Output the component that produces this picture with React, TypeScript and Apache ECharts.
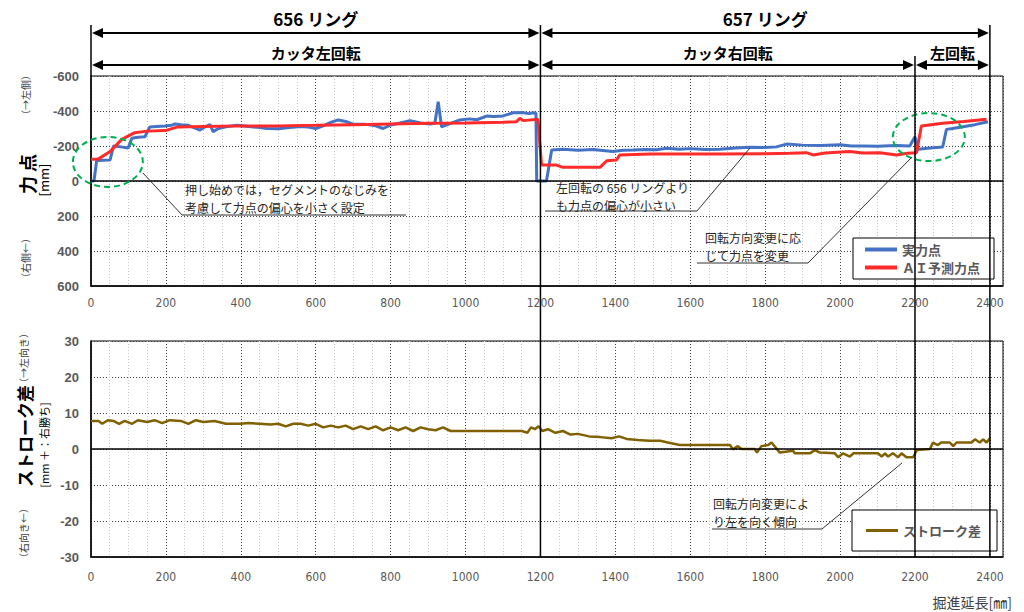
import React, { useEffect, useRef } from "react";
import * as echarts from "echarts";

// 実力点 [掘進延長 mm, 力点 mm]（負 = 左側）
const actualForce: [number, number][] = [
  [0, 0], [8, 0], [15, -116], [30, -118], [51, -120], [60, -200], [80, -195], [99, -188],
  [109, -244], [125, -250], [144, -253], [157, -309], [175, -312], [198, -314], [215, -318],
  [224, -326], [240, -322], [260, -318], [291, -291], [305, -310], [318, -322], [326, -282],
  [340, -300], [360, -310], [390, -318], [420, -312], [450, -305], [470, -300], [500, -298],
  [530, -305], [560, -312], [580, -308], [600, -300], [620, -315], [640, -335], [660, -349],
  [680, -340], [700, -325], [730, -325], [760, -315], [780, -300], [800, -320], [825, -331],
  [852, -345], [880, -332], [905, -325], [918, -330], [927, -453], [936, -310], [955, -325],
  [985, -349], [1010, -355], [1030, -350], [1056, -371], [1075, -368], [1100, -372],
  [1127, -390], [1150, -392], [1170, -385], [1180, -390], [1188, -388], [1190, 0], [1216, 0],
  [1230, -177], [1260, -181], [1300, -176], [1340, -180], [1394, -168], [1420, -176],
  [1447, -177], [1480, -180], [1510, -178], [1537, -187], [1570, -182], [1600, -185],
  [1640, -180], [1679, -181], [1720, -188], [1760, -193], [1800, -192], [1830, -195],
  [1857, -211], [1900, -205], [1950, -203], [2000, -207], [2030, -200], [2061, -200],
  [2100, -198], [2150, -203], [2186, -200], [2200, -253], [2208, -181], [2240, -188],
  [2274, -194], [2284, -295], [2300, -300], [2328, -310], [2360, -322], [2395, -339],
];

// ＡＩ予測力点
const aiForce: [number, number][] = [
  [0, -124], [19, -125], [51, -168], [82, -238], [117, -276], [150, -285], [198, -288],
  [232, -309], [300, -312], [400, -315], [500, -315], [600, -318], [700, -322], [800, -326],
  [900, -330], [1000, -332], [1100, -336], [1136, -339], [1145, -358], [1154, -345],
  [1193, -353], [1203, -91], [1243, -91], [1260, -78], [1359, -78], [1377, -116],
  [1403, -120], [1412, -149], [1492, -154], [1679, -154], [1800, -156], [1866, -158],
  [1910, -162], [1928, -149], [1960, -160], [2026, -168], [2060, -160], [2106, -162],
  [2151, -149], [2180, -158], [2204, -162], [2217, -314], [2274, -330], [2330, -340],
  [2391, -353],
];

// ストローク差 [掘進延長 mm, mm]
const strokeDiff: [number, number][] = [
  [0, 7.8], [20, 7.8], [30, 7], [45, 8], [60, 7.8], [75, 7], [90, 7.8], [110, 7], [125, 8],
  [150, 7.5], [170, 8], [190, 7.2], [210, 8], [240, 7.8], [260, 7], [280, 8], [300, 7.5],
  [330, 7.8], [360, 7], [380, 7], [400, 7], [420, 7.2], [450, 7], [480, 6.8], [500, 7],
  [520, 6.3], [540, 7], [560, 7], [580, 6.5], [600, 7], [620, 6], [640, 6.5], [660, 6],
  [680, 6.5], [700, 5.5], [720, 6.3], [740, 5.5], [760, 6.3], [780, 5.2], [800, 6],
  [820, 5.2], [840, 6], [860, 5], [880, 6], [900, 5.5], [920, 5.2], [940, 6], [960, 5],
  [980, 5], [1000, 5], [1050, 5], [1100, 5], [1150, 5], [1165, 4.5], [1175, 6], [1185, 5.5],
  [1195, 6.3], [1205, 5], [1220, 5.5], [1240, 4.5], [1260, 5], [1280, 4], [1300, 4.2],
  [1330, 3.5], [1360, 3.3], [1390, 3], [1410, 3.5], [1430, 2.8], [1460, 2.5], [1490, 2.3],
  [1520, 2.3], [1540, 1.8], [1572, 1.1], [1706, 1.1], [1714, -0.1], [1727, 0.8], [1737, 0],
  [1772, 0], [1778, -1], [1790, 0.8], [1808, 1.1], [1817, 1.8], [1839, -1], [1875, -0.5],
  [1879, -1.2], [1919, -1.2], [1933, -0.3], [1946, -1], [1986, -1.2], [1995, -2.3],
  [2008, -1.2], [2026, -2.1], [2036, -1.2], [2101, -1.2], [2111, -2.1], [2120, -1.2],
  [2128, -2.1], [2141, -1.2], [2155, -2.3], [2164, -1.2], [2177, -2.3], [2195, -2.3],
  [2205, -0.3], [2240, 0], [2248, 1.8], [2261, 1.1], [2270, 1.8], [2293, 1.8], [2302, 0.8],
  [2311, 1.8], [2351, 1.8], [2360, 2.7], [2373, 1.8], [2382, 2.7], [2391, 1.8], [2400, 3],
];

const rings = [
  { label: "656 リング", from: 0, to: 1200 },
  { label: "657 リング", from: 1200, to: 2400 },
];
const rotations = [
  { label: "カッタ左回転", from: 0, to: 1200 },
  { label: "カッタ右回転", from: 1200, to: 2200 },
  { label: "左回転", from: 2200, to: 2400 },
];

const JP = '"Noto Sans CJK JP", "Noto Sans", sans-serif';
const NARROW = '"Liberation Sans Narrow", "DejaVu Sans Condensed", "Roboto", sans-serif';

export default function App() {
  const ref = useRef<HTMLDivElement>(null);
  useEffect(() => {
    const chart = echarts.init(ref.current!, null, { renderer: "svg" });
    const xCommon = (gridIndex: number) => ({
      type: "value" as const,
      gridIndex,
      min: 0,
      max: 2435,
      interval: 200,
      axisLine: { show: true, onZero: false, lineStyle: { color: "#000", width: 1.5 } },
      axisTick: { show: false },
      axisLabel: {
        color: "#595959",
        fontSize: 12,
        fontFamily: NARROW,
        margin: gridIndex === 0 ? 11 : 14,
        showMaxLabel: false,
        formatter: (v: number) => String(v),
      },
      splitLine: { show: true, lineStyle: { color: "#404040", type: [1, 2], width: 1 } },
      minorTick: { show: false, splitNumber: 4 },
      minorSplitLine: { show: true, lineStyle: { color: "#c8c8c8", type: [1, 2], width: 1 } },
    });
    const yLabel = {
      color: "#595959",
      fontSize: 13,
      fontWeight: "bold" as const,
      fontFamily: '"Liberation Sans", sans-serif',
      margin: 12,
      formatter: (v: number) => String(v),
    };
    chart.setOption({
      animation: false,
      backgroundColor: "#fff",
      grid: [
        { left: 91, top: 76, width: 912, height: 210, show: true, borderColor: "#000", borderWidth: 1 },
        { left: 91, top: 341, width: 912, height: 216, show: true, borderColor: "#000", borderWidth: 1 },
      ],
      xAxis: [xCommon(0), xCommon(1)],
      yAxis: [
        {
          type: "value",
          gridIndex: 0,
          inverse: true,
          min: -600,
          max: 600,
          interval: 200,
          axisLine: { show: true, lineStyle: { color: "#000", width: 1.5 } },
          axisTick: { show: false },
          axisLabel: yLabel,
          splitLine: { lineStyle: { color: "#404040", type: [1, 2] } },
        },
        {
          type: "value",
          gridIndex: 1,
          min: -30,
          max: 30,
          interval: 10,
          axisLine: { show: true, lineStyle: { color: "#000", width: 1.5 } },
          axisTick: { show: false },
          axisLabel: yLabel,
          splitLine: { lineStyle: { color: "#404040", type: [1, 2] } },
        },
      ],
      legend: [
        {
          data: ["実力点", "ＡＩ予測力点"],
          orient: "vertical",
          left: 853,
          top: 238,
          padding: [5, 14, 5, 12],
          itemGap: 5,
          itemWidth: 32,
          itemHeight: 4,
          icon: "rect",
          backgroundColor: "#fff",
          borderColor: "#000",
          borderWidth: 1,
          textStyle: { color: "#595959", fontSize: 13, fontWeight: "bold", fontFamily: JP },
        },
        {
          data: ["ストローク差"],
          orient: "vertical",
          left: 852,
          top: 510,
          padding: [14, 16, 14, 14],
          itemWidth: 32,
          itemHeight: 3,
          icon: "rect",
          backgroundColor: "#fff",
          borderColor: "#000",
          borderWidth: 1,
          textStyle: { color: "#595959", fontSize: 13, fontWeight: "bold", fontFamily: JP },
        },
      ],
      series: [
        {
          name: "実力点",
          type: "line",
          xAxisIndex: 0,
          yAxisIndex: 0,
          data: actualForce,
          symbol: "none",
          lineStyle: { color: "#4472C4", width: 3 },
          itemStyle: { color: "#4472C4" },
          z: 3,
          markLine: {
            silent: true,
            symbol: "none",
            label: { show: false },
            lineStyle: { color: "#000", type: "solid", width: 1.5 },
            data: [{ yAxis: 0 }],
          },
        },
        {
          name: "ＡＩ予測力点",
          type: "line",
          xAxisIndex: 0,
          yAxisIndex: 0,
          data: aiForce,
          symbol: "none",
          lineStyle: { color: "#FF2A2A", width: 3 },
          itemStyle: { color: "#FF2A2A" },
          z: 4,
        },
        {
          name: "ストローク差",
          type: "line",
          xAxisIndex: 1,
          yAxisIndex: 1,
          data: strokeDiff,
          symbol: "none",
          lineStyle: { color: "#806000", width: 2.5 },
          itemStyle: { color: "#806000" },
          z: 3,
          markLine: {
            silent: true,
            symbol: "none",
            label: { show: false },
            lineStyle: { color: "#000", type: "solid", width: 1.5 },
            data: [{ yAxis: 0 }],
          },
        },
      ],
    });

    const px = (v: number) => chart.convertToPixel({ xAxisIndex: 0 }, v) as number;
    const pyTop = (v: number) => chart.convertToPixel({ yAxisIndex: 0 }, v) as number;
    const plotTop = pyTop(-600);
    const bottomPlotBottom = chart.convertToPixel({ yAxisIndex: 1 }, -30) as number;

    const g: any[] = [];
    const lineEl = (x1: number, y1: number, x2: number, y2: number, w = 1.5, color = "#000") => ({
      type: "line",
      shape: { x1, y1, x2, y2 },
      style: { stroke: color, lineWidth: w },
      z: 100,
    });
    const arrow = (a: number, b: number, y: number) => {
      const L = 12;
      const H = 5;
      g.push(lineEl(a + L - 1, y, b - L + 1, y, 2));
      g.push({ type: "polygon", shape: { points: [[a + 1, y], [a + L, y - H], [a + L, y + H]] }, style: { fill: "#000" }, z: 100 });
      g.push({ type: "polygon", shape: { points: [[b - 1, y], [b - L, y - H], [b - L, y + H]] }, style: { fill: "#000" }, z: 100 });
    };
    const rowY1 = 33;
    const rowY2 = 65;
    rings.forEach((r) => {
      const a = px(r.from);
      const b = px(r.to);
      arrow(a, b, rowY1);
      g.push({
        type: "text",
        x: (a + b) / 2,
        y: 18,
        style: { text: r.label, fill: "#000", font: `bold 17px ${JP}`, align: "center", verticalAlign: "middle" },
        z: 100,
      });
    });
    rotations.forEach((r) => {
      const a = px(r.from);
      const b = px(r.to);
      arrow(a, b, rowY2);
      g.push({
        type: "text",
        x: (a + b) / 2,
        y: 52,
        style: { text: r.label, fill: "#000", font: `bold 15px ${JP}`, align: "center", verticalAlign: "middle" },
        z: 100,
      });
    });
    // boundary lines
    g.push(lineEl(px(0), 25, px(0), plotTop, 1.5));
    g.push(lineEl(px(1200), 25, px(1200), bottomPlotBottom, 1.5));
    g.push(lineEl(px(2200), 56, px(2200), bottomPlotBottom, 1.5));
    g.push(lineEl(px(2400), 25, px(2400), bottomPlotBottom, 1.5));

    // dashed ellipses
    const ell = (x: number, y: number, rx: number, ry: number) => ({
      type: "ellipse",
      shape: { cx: px(x), cy: pyTop(y), rx, ry },
      style: { fill: "none", stroke: "#00B050", lineWidth: 2, lineDash: [6, 4] },
      z: 90,
    });
    g.push(ell(45, -109, 35, 25));
    g.push(ell(2237, -251, 36, 24));

    // annotations: each line is its own text
    const note = (x: number, y: number, lines: string[], lh: number) => {
      lines.forEach((t, i) =>
        g.push({
          type: "text",
          x,
          y: y + i * lh,
          style: {
            text: t,
            fill: "#262626",
            font: `12px ${JP}`,
            verticalAlign: "middle",
          },
          z: 95,
        })
      );
    };
    note(185, 189, ["押し始めでは，セグメントのなじみを", "考慮して力点の偏心を小さく設定"], 18);
    g.push(lineEl(182, 215, 406, 215, 1, "#333"));
    g.push(lineEl(143, 173, 182, 215, 1, "#333"));

    note(556, 187, ["左回転の 656 リングより", "も力点の偏心が小さい"], 18);
    g.push(lineEl(545, 211, 697, 211, 1, "#333"));
    g.push(lineEl(697, 211, 750, 148, 1, "#333"));

    note(705, 237, ["回転方向変更に応", "じて力点を変更"], 18);
    g.push(lineEl(697, 263, 808, 263, 1, "#333"));
    g.push(lineEl(808, 263, 912, 157, 1, "#333"));

    note(713, 503, ["回転方向変更によ", "り左を向く傾向"], 18);
    g.push(lineEl(712, 529, 822, 529, 1, "#333"));
    g.push(lineEl(822, 529, 902, 463, 1, "#333"));

    // axis titles (rotated, reading bottom to top)
    const vtext = (x: number, y: number, text: string, font: string, fill = "#000") => ({
      type: "text",
      x,
      y,
      rotation: Math.PI / 2,
      style: { text, fill, font, align: "center", verticalAlign: "middle" },
      z: 100,
    });
    g.push(vtext(25, 95, "（→左側）", `10px ${JP}`, "#404040"));
    g.push(vtext(27, 174, "力 点", `bold 18px ${JP}`));
    g.push(vtext(43, 180, "[mm]", `13px ${JP}`));
    g.push(vtext(25, 258, "（右側←）", `10px ${JP}`, "#404040"));

    g.push(vtext(23, 358, "（→左向き）", `10px ${JP}`, "#404040"));
    g.push(vtext(24, 436, "ストローク差", `bold 17px ${JP}`));
    g.push(vtext(44, 445, "[mm ＋：右勝ち]", `11px ${JP}`));
    g.push(vtext(23, 533, "（右向き←）", `10px ${JP}`, "#404040"));

    g.push({
      type: "text",
      x: 1012,
      y: 602,
      style: { text: "掘進延長[㎜]", fill: "#404040", font: `14px ${JP}`, align: "right", verticalAlign: "middle" },
      z: 100,
    });

    chart.setOption({ graphic: g });
    return () => chart.dispose();
  }, []);
  return <div ref={ref} style={{ position: "fixed", left: 0, top: 0, width: 1024, height: 612 }} />;
}
